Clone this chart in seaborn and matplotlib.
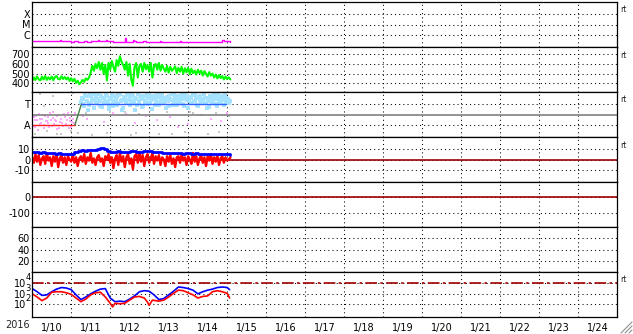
import numpy as np
import matplotlib
matplotlib.use("Agg")
import matplotlib.pyplot as plt
from matplotlib.lines import Line2D
import seaborn as sns

sns.set_style("white")
plt.rcParams['font.family'] = ['DejaVu Sans']
plt.rcParams['axes.unicode_minus'] = False

# ---------------- data (hours since 2016-01-10 00:00) ----------------
day_labels = ["1/10", "1/11", "1/12", "1/13", "1/14", "1/15", "1/16", "1/17",
              "1/18", "1/19", "1/20", "1/21", "1/22", "1/23", "1/24"]
year_label = "2016"

# X-ray flux (W/m^2)
xray_h = [0, 2, 4, 6, 8, 10, 12, 14, 16, 17, 18, 20, 22, 24, 26, 28, 30, 32, 34, 36,
          38, 40, 40.5, 41, 43, 45, 45.5, 46, 48, 50, 52, 54, 56, 57, 57.5, 60, 62, 62.5, 64, 66,
          68, 70, 72, 74, 76, 78, 78.5, 79, 82, 86, 90, 90.7, 91.5, 94, 98, 102, 106, 110, 114, 116,
          117, 118, 120, 121.5]
xray_v = [3.2e-7, 3.0e-7, 3.1e-7, 2.8e-7, 2.7e-7, 2.8e-7, 2.7e-7, 2.8e-7, 2.8e-7, 3.8e-7,
          2.9e-7, 2.8e-7, 2.7e-7, 2.6e-7, 2.7e-7, 2.6e-7, 2.6e-7, 2.7e-7, 2.6e-7, 2.7e-7,
          2.8e-7, 3.0e-7, 3.8e-7, 2.9e-7, 2.8e-7, 3.2e-7, 3.9e-7, 3.0e-7, 2.8e-7, 2.5e-7,
          2.4e-7, 2.4e-7, 2.5e-7, 5.5e-7, 2.6e-7, 2.6e-7, 3.6e-7, 2.7e-7, 2.6e-7, 2.5e-7,
          2.9e-7, 2.4e-7, 2.2e-7, 2.2e-7, 2.2e-7, 2.4e-7, 3.0e-7, 2.3e-7, 2.3e-7, 2.3e-7,
          2.4e-7, 3.2e-7, 2.4e-7, 2.2e-7, 2.2e-7, 2.2e-7, 2.2e-7, 2.2e-7, 2.2e-7, 2.3e-7,
          3.5e-7, 2.8e-7, 2.7e-7, 2.6e-7]

# Solar wind speed (km/s), hourly
speed = [425, 460, 435, 470, 440, 430, 468, 440, 475, 435, 462,
         440, 470, 432, 465, 475, 445, 440, 472, 445, 465,
         440, 460, 425, 452, 420, 445, 405, 425, 390, 410,
         435, 415, 450, 435, 460, 510, 580, 530, 600, 555,
         620, 540, 610, 500, 590, 430, 610, 540, 630, 570,
         520, 640, 580, 680, 620, 590, 540, 620, 480, 600,
         440, 375, 570, 610, 460, 580, 600, 520, 610, 545,
         590, 520, 610, 460, 580, 600, 540, 610, 530, 590,
         550, 520, 580, 510, 570, 530, 550, 575, 505, 560,
         520, 570, 500, 555, 515, 560, 495, 550, 505, 530,
         490, 540, 505, 530, 480, 525, 500, 470, 515, 480,
         500, 460, 490, 450, 485, 455, 475, 440, 470, 445, 460, 440]

# IMF phi angle (deg): sector lines
sector_away_h = [0, 26.3]
sector_away_v = [135, 135]
sector_ramp_h = [26.3, 30.3]
sector_ramp_v = [135, 315]
sector_tow_h = [30.3, 119.6]
sector_tow_v = [315, 315]

toward_a = [330, 360, 300, 385, 340, 310, 395, 350, 280, 370,
            320, 400, 345, 290, 365, 330, 380, 310, 355, 395,
            300, 340, 375, 320, 405, 350, 285, 365, 335, 390,
            310, 345, 380, 260, 355, 400, 325, 370, 300, 385,
            340, 315, 395, 350, 275, 365, 330, 405, 310, 360,
            390, 320, 345, 375, 295, 355, 400, 330, 370, 305,
            385, 340, 360, 315, 395, 350, 280, 375, 325, 390,
            345, 365, 300, 385, 335, 355, 400, 320, 370, 290,
            360, 340, 395, 315, 375, 350, 330, 385, 305, 365,
            345, 320]
toward_b = [370, 315, 390, 345, 265, 380, 325, 360, 400, 335,
            355, 300, 385, 370, 320, 395, 345, 275, 365, 330,
            380, 355, 310, 390, 340, 260, 375, 320, 400, 350,
            365, 395, 330, 370, 305, 345, 380, 290, 360, 335,
            395, 370, 325, 355, 385, 310, 345, 375, 330, 395,
            320, 365, 285, 340, 380, 350, 310, 390, 345, 375,
            330, 360, 395, 300, 355, 385, 340, 365, 320, 345,
            390, 310, 375, 350, 330, 400, 365, 285, 345, 380,
            325, 370, 355, 300, 390, 335, 375, 350, 395, 320,
            360, 340]
away_a = [160, 200, 120, 180, 230, 140, 190, 110, 210, 170, 150, 240, 130, 195,
          175, 100, 220, 160, 185, 125, 205, 145, 235, 170, 115, 190, 150]
away_b = [130, 175, 215, 95, 185, 155, 225, 135, 170, 200, 120, 180, 250, 140,
          165, 210, 110, 190, 150, 230, 135, 175, 105, 195, 160, 220, 240]
away_late_h = [31, 34, 44, 50, 58, 63, 70, 77, 85, 90, 96, 104, 110, 116, 120]
away_late_a = [215, 190, 160, 240, 230, 150, 210, 175, 205, 120, 145, 225, 190, 170, 235]
gray_h = [2, 5, 9, 13, 18, 22, 25, 28, 33, 37, 41, 46, 52, 57, 61, 66, 72, 78, 83, 88,
          94, 99, 103, 108, 113, 118, 121, 7, 15, 24, 35, 48, 64, 75, 86, 97, 106, 115]
gray_a = [60, 400, 80, 380, 55, 240, 410, 70, 240, 50, 395, 65, 405, 245, 45, 230, 400, 60, 250, 410,
          75, 240, 395, 55, 235, 405, 210, 300, 60, 85, 410, 250, 70, 395, 60, 245, 400, 75]

# IMF Bz (nT), hourly, and Bt (nT), 2-hourly
bz = [2, -3, 5, -2, 4, -5, 1, 3, -4, 6, -1,
      2, -6, 3, -2, 5, -7, 1, 4, -3, 2,
      -5, 3, 0, -2, 4, -3, 2, -6, 1, 3,
      -2, 5, -4, 2, -1, 6, -3, 1, -5, 2,
      4, -2, 1, -6, 3, 0, 5, -3, 2, -8,
      1, 4, -5, 6, -2, 3, -7, 2, 5, -4,
      1, -9, 3, 5, -3, 7, -2, 4, -6, 2,
      5, -3, 1, 6, -4, 3, -1, 4, -5, 2,
      0, -6, 3, -2, 4, -4, 1, -7, 2, 3,
      -3, 5, -1, 2, -5, 3, 0, -4, 6, -2,
      3, -5, 1, 4, -3, 2, -6, 3, -1, 5,
      -4, 2, -2, 4, -5, 1, 3, -3, 2, -1, 0, 2]
bt = [6.5, 6.8, 6.0, 6.5, 6.2, 5.8, 6.0, 5.5, 5.8, 5.5,
      5.2, 4.8, 5.5, 6.5, 8.0, 8.5, 8.2, 8.5, 9.0, 8.5,
      9.5, 10.2, 10.0, 8.0, 7.2, 7.0, 7.5, 7.0, 6.8, 7.2,
      7.5, 7.8, 7.2, 7.0, 8.0, 7.5, 7.8, 7.2, 7.0, 6.5,
      6.2, 6.0, 6.0, 5.8, 6.0, 5.8, 5.5, 5.8, 5.6, 5.5,
      5.7, 5.4, 5.5, 5.2, 5.4, 5.2, 5.0, 5.3, 5.0, 4.8,
      5.0, 4.5]

# Electron flux (log10)
e_hi_h = [0, 3, 6, 9, 12, 15, 18, 21, 24, 27, 30, 33, 36, 39, 42, 45, 48, 51, 54, 57,
          60, 63, 66, 69, 72, 75, 78, 81, 84, 87, 90, 93, 96, 99, 102, 105, 108, 111, 114, 117,
          120, 121.5]
e_hi_log = [3.5, 3.2, 2.85, 2.9, 3.2, 3.45, 3.6, 3.55, 3.4, 2.9,
            2.45, 2.7, 3.0, 3.25, 3.45, 3.5, 2.6, 2.25, 2.3, 2.25,
            2.5, 2.8, 3.2, 3.3, 3.25, 2.9, 2.45, 2.55, 2.9, 3.25,
            3.65, 3.6, 3.5, 3.35, 3.0, 3.2, 3.35, 3.45, 3.6, 3.65,
            3.6, 3.4]
e_lo_h = [0, 3, 6, 9, 12, 15, 18, 21, 24, 27, 30, 33, 36, 39, 42, 45,
          48, 49.5, 51, 54, 57, 60, 63, 66, 69, 71, 72, 74,
          78, 81, 84, 87, 90, 93, 96, 99, 102, 105, 108, 111, 114, 117, 120, 121.5]
e_lo_log = [3.0, 2.7, 2.35, 2.6, 3.15, 3.2, 3.2, 3.1, 2.95, 2.6, 2.25, 2.5, 2.9, 3.1, 3.15, 2.7,
            2.1, 1.75, 2.1, 2.05, 2.1, 2.4, 2.7, 2.75, 2.6, 2.2, 1.9, 2.4,
            2.3, 2.4, 2.7, 3.05, 3.35, 3.3, 3.1, 2.9, 2.6, 2.75, 2.8, 3.2, 3.3, 3.2, 3.05, 2.6]
e_threshold = 1e4
e_tick_exp = [2, 3, 4]

# ---------------- layout ----------------
W, H = 633, 334
fig = plt.figure(figsize=(W / 100, H / 100), dpi=100)
L, R = 32.2, 617.0
edges = [2, 47, 92, 137, 182, 227, 272, 317]
axes = []
for i in range(7):
    top, bot = edges[i], edges[i + 1]
    ax = fig.add_axes([L / W, 1 - bot / H, (R - L) / W, (bot - top) / H])
    axes.append(ax)

FS = 7
dot = (0, (1, 3))
days = np.arange(24, 360, 24)
noons = np.arange(12, 360, 24)

for i, ax in enumerate(axes):
    ax.set_xlim(0, 360)
    ax.set_xticks(days)
    ax.set_xticks(noons, minor=True)
    ax.tick_params(axis='both', which='both', length=0, labelsize=FS, pad=1.5, colors='k')
    ax.grid(True, which='major', color='k', linestyle=dot, linewidth=0.75)
    ax.set_axisbelow(True)
    for s in ax.spines.values():
        s.set_color('k')
        s.set_linewidth(0.9)
    ax.set_xticklabels([])
    ax.set_xticklabels([], minor=True)

# Panel 1: X-ray
ax = axes[0]
sns.lineplot(x=xray_h, y=xray_v, ax=ax, color='#ff00ff', lw=1.0, estimator=None,
             sort=False, drawstyle='steps-post')
ax.set_yscale('log')
ax.set_ylim(10 ** -7.08, 10 ** -2.92)
ax.set_yticks([1e-6, 1e-5, 1e-4])
ax.set_yticklabels(['C', 'M', 'X'])
ax.minorticks_off()
ax.set_xticks(noons, minor=True)
ax.set_xticklabels([], minor=True)

# Panel 2: speed
ax = axes[1]
sns.lineplot(x=np.arange(len(speed)), y=speed, ax=ax, color='#00ff00', lw=1.5,
             estimator=None, sort=False)
ax.set_ylim(310, 775)
ax.set_yticks([400, 500, 600, 700])

# Panel 3: phi angle
ax = axes[2]
ax.axhline(225, color='#808080', lw=1.2, zorder=1.5)
sns.scatterplot(x=gray_h, y=gray_a, ax=ax, color='#c8c8c8', marker='s', s=3.5, linewidth=0)
for xs, ys in [(np.arange(len(away_a)), away_a), (np.arange(len(away_b)) + 0.5, away_b),
               (away_late_h, away_late_a)]:
    sns.scatterplot(x=xs, y=ys, ax=ax, color='#ffa8ff', marker='s', s=3.5, linewidth=0)
for xs, ys in [(np.arange(len(toward_a)) + 30, toward_a), (np.arange(len(toward_b)) + 30.5, toward_b)]:
    sns.scatterplot(x=xs, y=ys, ax=ax, color='#a4e2ff', marker='s', s=5, linewidth=0)
sns.lineplot(x=sector_away_h, y=sector_away_v, ax=ax, color='#ff2020', lw=1.0, estimator=None, sort=False)
sns.lineplot(x=sector_ramp_h, y=sector_ramp_v, ax=ax, color='#408040', lw=1.0, estimator=None, sort=False)
sns.lineplot(x=sector_tow_h, y=sector_tow_v, ax=ax, color='#3060ff', lw=1.0, estimator=None, sort=False)
ax.set_ylim(32, 418)
ax.set_yticks([135, 315])
ax.set_yticklabels(['A', 'T'])

# Panel 4: Bz / Bt
ax = axes[3]
ax.axhline(0, color='#a00000', lw=1.2, zorder=1.5)
sns.lineplot(x=np.arange(len(bz)), y=bz, ax=ax, color='#ff0000', lw=1.7, estimator=None, sort=False)
sns.lineplot(x=np.arange(0, 2 * len(bt), 2), y=bt, ax=ax, color='#0000ff', lw=2.0, estimator=None,
             sort=False, drawstyle='steps-post')
ax.set_ylim(-20.8, 20.8)
ax.set_yticks([-10, 0, 10])

# Panel 5
ax = axes[4]
ax.axhline(0, color='#a00000', lw=1.2)
ax.set_ylim(-193, 99)
ax.set_yticks([-100, 0])

# Panel 6
ax = axes[5]
ax.set_ylim(0, 80)
ax.set_yticks([20, 40, 60])

# Panel 7: electrons
ax = axes[6]
ax.axhline(e_threshold, color='#a00000', lw=1.2, linestyle=(0, (7, 2, 1.5, 2)))
sns.lineplot(x=e_hi_h, y=[10 ** v for v in e_hi_log], ax=ax, color='#0000ff', lw=1.2,
             estimator=None, sort=False)
sns.lineplot(x=e_lo_h, y=[10 ** v for v in e_lo_log], ax=ax, color='#ff0000', lw=1.2,
             estimator=None, sort=False)
ax.set_yscale('log')
ax.set_ylim(10 ** 0.79, 10 ** 5.08)
ax.set_yticks([10.0 ** e for e in e_tick_exp])
ax.set_yticklabels(['10'] * len(e_tick_exp))
ax.tick_params(axis='y', labelsize=FS, pad=4.5)
ax.minorticks_off()
ax.set_xticks(noons, minor=True)
ax.set_xticklabels(day_labels, minor=True)
ax.tick_params(axis='x', which='minor', labelsize=FS, pad=4, length=0)
for e in e_tick_exp:
    ax.annotate(str(e), xy=(0, 10.0 ** e), xycoords=('axes fraction', 'data'),
                xytext=(-0.8, 0.8), textcoords='offset points', ha='right', va='bottom',
                fontsize=6, annotation_clip=False, color='k', zorder=10)

for ax in axes:
    ax.set_xlim(0, 360)
    ax.set_xlabel("")
    ax.set_ylabel("")

fig.text(5 / W, 1 - 325 / H, year_label, fontsize=FS, ha='left', va='center')
for yy in [10, 55, 100, 145, 280]:
    fig.text(620 / W, 1 - yy / H, "rt", fontsize=5.5, ha='left', va='center')

# resize grip
for k in [4, 8, 12]:
    fig.add_artist(Line2D([(W - k) / W, (W - 1) / W], [1 / H, k / H],
                          color='#909090', lw=0.8, transform=fig.transFigure))

fig.savefig("out.png", dpi=100)
